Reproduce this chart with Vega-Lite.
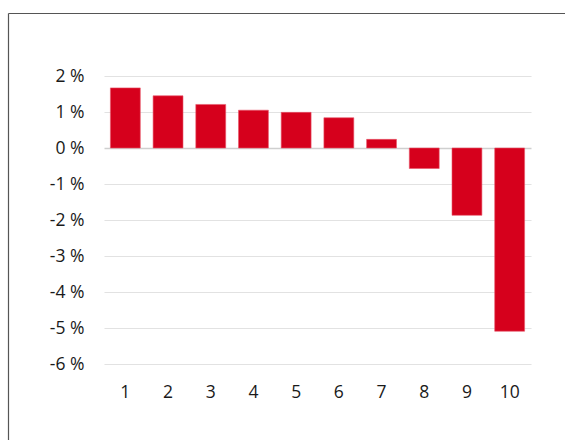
{
  "$schema": "https://vega.github.io/schema/vega-lite/v6.json",
  "autosize": "none",
  "padding": {"left": 8, "top": 13, "right": 0, "bottom": 0},
  "width": 620,
  "height": 460,
  "background": "white",
  "config": {
    "view": {"stroke": null},
    "font": "Open Sans"
  },
  "data": {
    "values": [
      {"decile": 1, "value": 1.67},
      {"decile": 2, "value": 1.45},
      {"decile": 3, "value": 1.21},
      {"decile": 4, "value": 1.05},
      {"decile": 5, "value": 0.99},
      {"decile": 6, "value": 0.84},
      {"decile": 7, "value": 0.24},
      {"decile": 8, "value": -0.57},
      {"decile": 9, "value": -1.87},
      {"decile": 10, "value": -5.09}
    ]
  },
  "layer": [
    {
      "mark": {"type": "bar", "color": "#d6001c", "stroke": "#e8566a", "strokeWidth": 0.6},
      "encoding": {
        "x": {
          "field": "decile",
          "type": "ordinal",
          "scale": {"range": [96, 523], "paddingInner": 0.3, "paddingOuter": 0.15},
          "axis": {
            "title": null,
            "orient": "bottom",
            "offset": -109,
            "domain": false,
            "ticks": false,
            "labelAngle": 0,
            "labelPadding": 19,
            "labelFontSize": 17.5,
            "labelColor": "#1a1a1a",
            "labelFont": "Open Sans"
          }
        },
        "y": {
          "field": "value",
          "type": "quantitative",
          "scale": {"domain": [-6, 2], "range": [351, 63], "nice": false, "zero": false},
          "axis": {
            "title": null,
            "orient": "left",
            "offset": -96,
            "values": [-6, -5, -4, -3, -2, -1, 0, 1, 2],
            "labelExpr": "datum.value + ' %'",
            "domain": false,
            "ticks": false,
            "labelPadding": 20,
            "labelFontSize": 17.5,
            "labelColor": "#1a1a1a",
            "labelFont": "Open Sans",
            "grid": true,
            "gridColor": {"condition": {"test": "datum.value === 0", "value": "#cfcfcf"}, "value": "#e2e2e2"},
            "gridWidth": {"condition": {"test": "datum.value === 0", "value": 1.6}, "value": 1.2}
          }
        }
      }
    },
    {
      "mark": {"type": "point", "opacity": 0},
      "encoding": {
        "x": {
          "datum": 0,
          "type": "quantitative",
          "scale": {"domain": [0, 1]},
          "axis": {"orient": "top", "title": null, "labels": false, "ticks": false, "grid": false, "domain": true, "domainColor": "#555555", "domainWidth": 1.2}
        },
        "y": {
          "datum": 0,
          "type": "quantitative",
          "scale": {"domain": [0, 1]},
          "axis": {"orient": "left", "title": null, "labels": false, "ticks": false, "grid": false, "domain": true, "domainColor": "#555555", "domainWidth": 1.2}
        }
      }
    }
  ],
  "resolve": {"scale": {"x": "independent", "y": "independent"}, "axis": {"x": "independent", "y": "independent"}}
}
